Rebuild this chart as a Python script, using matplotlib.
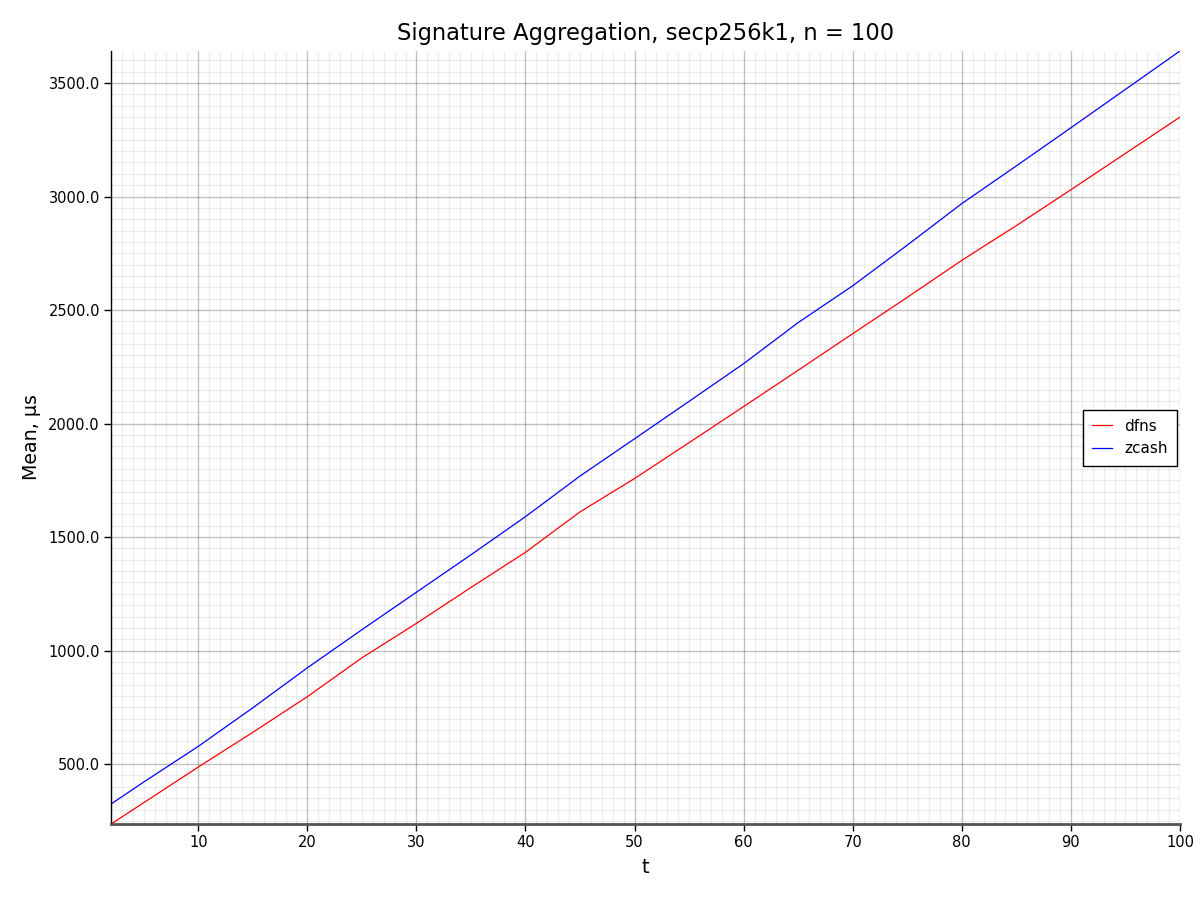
import matplotlib
matplotlib.use('Agg')
import matplotlib.pyplot as plt
from matplotlib.ticker import MultipleLocator, FormatStrFormatter

# threshold t and mean signing time (us)
t = [2, 5, 10, 15, 20, 25, 30, 35, 40, 45, 50, 55, 60, 65, 70, 75, 80, 85, 90, 95, 100]
dfns = [236, 330, 487, 640, 797, 968, 1120, 1278, 1433, 1611, 1758, 1916, 2075, 2235, 2396, 2556, 2719, 2872, 3030, 3190, 3350]
zcash = [324, 421, 578, 748, 924, 1092, 1257, 1422, 1590, 1769, 1933, 2098, 2264, 2445, 2607, 2786, 2969, 3135, 3303, 3472, 3641]

fig = plt.figure(figsize=(12, 9), dpi=100)
ax = fig.add_axes([0.0925, 0.0844, 0.8908, 0.8589])

ax.plot(t, dfns, color='red', lw=0.9, label='dfns')
ax.plot(t, zcash, color='blue', lw=0.9, label='zcash')

ax.set_xlim(2, 100)
ax.set_ylim(236, 3641)

ax.xaxis.set_major_locator(MultipleLocator(10))
ax.xaxis.set_minor_locator(MultipleLocator(1))
ax.yaxis.set_major_locator(MultipleLocator(500))
ax.yaxis.set_minor_locator(MultipleLocator(50))
ax.yaxis.set_major_formatter(FormatStrFormatter('%.1f'))

ax.set_axisbelow(True)
ax.grid(True, which='major', color='black', alpha=0.24, linewidth=1)
ax.grid(True, which='minor', color='black', alpha=0.065, linewidth=1)

for s in ['top', 'right']:
    ax.spines[s].set_visible(False)
ax.spines['left'].set_linewidth(1)
ax.spines['bottom'].set_linewidth(2)
ax.spines['bottom'].set_color('#555555')

ax.tick_params(axis='both', which='major', direction='out', length=5, width=1,
               labelsize=10.5, pad=3)
ax.tick_params(axis='both', which='minor', length=0)

ax.set_xlabel('t', fontsize=14, labelpad=6)
ax.set_ylabel('Mean, µs', fontsize=13.7, labelpad=5)
ax.set_title('Signature Aggregation, secp256k1, n = 100', fontsize=16.3, pad=8)

leg = ax.legend(loc='center right', bbox_to_anchor=(1.004, 0.5), fancybox=False,
                framealpha=1, edgecolor='black', fontsize=11, handlelength=1.3,
                borderpad=0.6)
leg.get_frame().set_linewidth(1)

fig.savefig('out.png', dpi=100)
